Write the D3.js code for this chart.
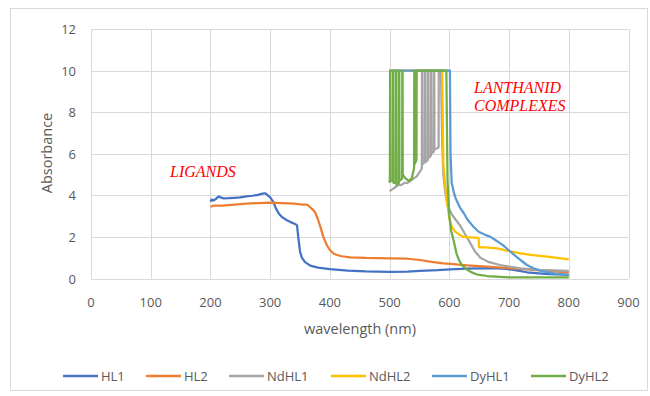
<!DOCTYPE html>
<html>
<head>
<meta charset="utf-8">
<script src="https://cdn.jsdelivr.net/npm/d3@7"></script>
<style>
  body { margin: 0; background: #fff; }
  svg { display: block; font-family: "Open Sans", "Noto Sans", sans-serif; }
</style>
</head>
<body>
<svg id="chart" width="650" height="396"></svg>
<script>
// absorbance spectra, [wavelength nm, absorbance]
const HL1 = [[200,3.7],[202,3.8],[205,3.75],[210,3.85],[214,3.95],[217,3.9],[222,3.85],[230,3.86],[240,3.88],[250,3.9],[260,3.95],[270,3.98],[280,4.02],[287,4.08],[292,4.1],[296,4.0],[300,3.9],[305,3.7],[310,3.35],[315,3.1],[320,2.95],[328,2.8],[335,2.7],[342,2.62],[345,2.55],[347,2.0],[350,1.3],[353,1.0],[358,0.8],[367,0.62],[380,0.52],[400,0.45],[430,0.38],[460,0.34],[500,0.32],[530,0.33],[551,0.37],[580,0.4],[602,0.44],[630,0.47],[669,0.5],[690,0.48],[710,0.4],[730,0.3],[760,0.22],[800,0.18]];
const HL2 = [[200,3.45],[205,3.5],[220,3.5],[240,3.55],[260,3.6],[280,3.63],[300,3.65],[320,3.62],[340,3.6],[355,3.55],[362,3.55],[366,3.45],[370,3.35],[375,3.2],[380,2.85],[385,2.4],[389,2.0],[395,1.6],[400,1.37],[406,1.2],[412,1.13],[420,1.07],[434,1.02],[460,0.99],[501,0.97],[530,0.95],[551,0.89],[570,0.8],[590,0.73],[602,0.7],[630,0.63],[663,0.57],[700,0.5],[740,0.42],[770,0.35],[800,0.3]];
const NdHL1 = [[500,4.2],[505,4.3],[510,4.4],[515,4.5],[520,4.5],[525,4.6],[530,4.6],[535,4.7],[540,4.8],[545,4.9],[550,5.1],[554,5.3],[554.3,10],[554.8,10],[555.1,5.5],[559,5.6],[559.3,10],[559.8,10],[560.1,5.6],[564,5.7],[564.3,10],[564.8,10],[565.1,5.8],[569,5.9],[569.3,10],[569.8,10],[570.1,6.0],[574,6.1],[574.3,10],[574.8,10],[575.1,6.2],[582,6.3],[582.3,10],[586,10],[588,6.5],[590,5.0],[593,4.2],[597,3.5],[604,3.1],[610,2.85],[618,2.55],[625,2.2],[635,1.7],[643,1.3],[652,1.0],[665,0.8],[685,0.65],[700,0.57],[719,0.49],[750,0.42],[800,0.37]];
const NdHL2 = [[500,10],[588,10],[590,5.5],[593,4.5],[597,3.5],[600,2.9],[604,2.5],[610,2.25],[617,2.1],[624,2.0],[635,1.98],[649,1.95],[650,1.5],[660,1.5],[680,1.45],[700,1.32],[719,1.21],[740,1.12],[764,1.05],[800,0.92]];
const DyHL1 = [[500,10],[601,10],[602,6],[604,4.6],[607,4.2],[610,3.9],[613,3.7],[618,3.4],[624,3.15],[630,2.85],[640,2.5],[649,2.25],[660,2.1],[669,2.0],[677,1.85],[685,1.7],[692,1.55],[699,1.37],[710,1.1],[719,0.89],[730,0.65],[741,0.49],[755,0.35],[775,0.25],[800,0.18]];
const DyHL2 = [[500,4.6],[500.5,4.9],[500.8,10],[501.2,10],[501.5,4.7],[505.5,4.7],[505.8,10],[506.2,10],[506.5,4.6],[510.5,4.6],[510.8,10],[511.2,10],[511.5,4.5],[515.5,4.6],[515.8,10],[516.2,10],[516.5,4.7],[521,4.8],[521.3,10],[521.7,10],[522,5.0],[527,4.8],[532,4.7],[537,4.8],[540,5.2],[541,5.3],[541.3,10],[541.7,10],[542,5.5],[545,5.7],[545.3,10],[595,10],[597,4.7],[600,3.0],[603,2.3],[607,1.85],[612,1.2],[616,0.9],[621,0.65],[628,0.45],[635,0.33],[645,0.2],[663,0.12],[700,0.06],[750,0.05],[800,0.05]];

const seriesNames = ["HL1", "HL2", "NdHL1", "NdHL2", "DyHL1", "DyHL2"];
const seriesData = [HL1, HL2, NdHL1, NdHL2, DyHL1, DyHL2];
const colors = ["#4472c4", "#ed7d31", "#a5a5a5", "#ffc000", "#5b9bd5", "#70ad47"];
const xTicks = [0, 100, 200, 300, 400, 500, 600, 700, 800, 900];
const yTicks = [0, 2, 4, 6, 8, 10, 12];

const svg = d3.select("#chart");

// chart frame
svg.append("rect")
  .attr("x", 10.5).attr("y", 8.5)
  .attr("width", 637).attr("height", 382)
  .attr("fill", "#fff")
  .attr("stroke", "#d9d9d9");

const x = d3.scaleLinear().domain([0, 900]).range([91, 628.5]);
const y = d3.scaleLinear().domain([0, 12]).range([278.5, 29]);

// grid
svg.append("g")
  .selectAll("line")
  .data(yTicks)
  .join("line")
  .attr("x1", x(0)).attr("x2", x(900))
  .attr("y1", d => Math.round(y(d)) + 0.5).attr("y2", d => Math.round(y(d)) + 0.5)
  .attr("stroke", "#d9d9d9");

svg.append("g")
  .selectAll("line")
  .data(xTicks)
  .join("line")
  .attr("x1", d => Math.round(x(d)) + 0.5).attr("x2", d => Math.round(x(d)) + 0.5)
  .attr("y1", y(0)).attr("y2", y(12))
  .attr("stroke", "#d9d9d9");

// tick labels
svg.append("g")
  .selectAll("text")
  .data(yTicks)
  .join("text")
  .attr("x", 76)
  .attr("y", d => y(d) + 5)
  .attr("text-anchor", "end")
  .attr("font-size", 13)
  .attr("fill", "#595959")
  .text(d => d);

svg.append("g")
  .selectAll("text")
  .data(xTicks)
  .join("text")
  .attr("x", d => x(d))
  .attr("y", 307)
  .attr("text-anchor", "middle")
  .attr("font-size", 13)
  .attr("fill", "#595959")
  .text(d => d);

// axis titles
svg.append("text")
  .attr("x", 360).attr("y", 334)
  .attr("text-anchor", "middle")
  .attr("font-size", 14.5)
  .attr("fill", "#595959")
  .text("wavelength (nm)");

svg.append("text")
  .attr("transform", "translate(52,153) rotate(-90)")
  .attr("text-anchor", "middle")
  .attr("font-size", 14.5)
  .attr("fill", "#595959")
  .text("Absorbance");

// spectra
const line = d3.line()
  .x(d => x(d[0]))
  .y(d => y(d[1]));

svg.append("g")
  .selectAll("path")
  .data(seriesData)
  .join("path")
  .attr("d", line)
  .attr("fill", "none")
  .attr("stroke", (d, i) => colors[i])
  .attr("stroke-width", 2.25)
  .attr("stroke-linejoin", "round");

// annotations
const note = svg.append("g")
  .attr("font-family", "'Liberation Serif', 'DejaVu Serif', serif")
  .attr("font-style", "italic")
  .attr("font-size", 16)
  .attr("fill", "#ff0000");
note.append("text").attr("x", 170).attr("y", 177).text("LIGANDS");
note.append("text").attr("x", 474).attr("y", 93).text("LANTHANID");
note.append("text").attr("x", 474).attr("y", 111).text("COMPLEXES");

// legend
const legendX = [63, 146, 229, 331, 432, 531];
const legend = svg.append("g")
  .selectAll("g")
  .data(seriesNames)
  .join("g")
  .attr("transform", (d, i) => `translate(${legendX[i]},376)`);

legend.append("line")
  .attr("x1", 0).attr("x2", 35)
  .attr("stroke", (d, i) => colors[i])
  .attr("stroke-width", 2.5);

legend.append("text")
  .attr("x", 38).attr("y", 4.5)
  .attr("font-size", 13)
  .attr("fill", "#595959")
  .text(d => d);
</script>
</body>
</html>
